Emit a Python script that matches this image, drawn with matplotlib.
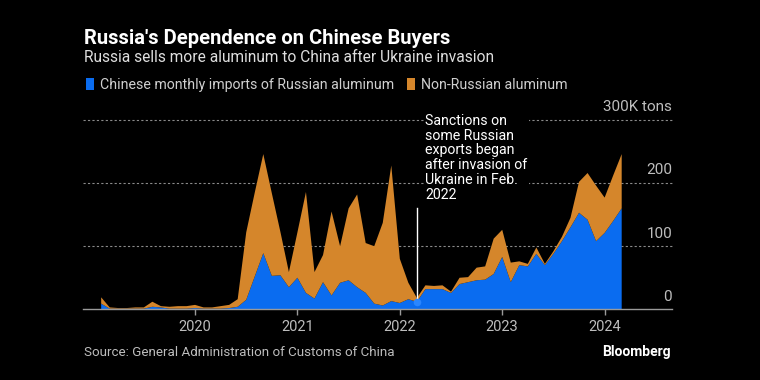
import numpy as np
import pandas as pd
import matplotlib
matplotlib.use("Agg")
import matplotlib.pyplot as plt
from matplotlib.patches import Patch

# data, thousand tons, monthly Jan 2019 .. Feb 2024
months = pd.period_range("2019-01", "2024-02", freq="M")
russian = [9, 1, 1, 1, 1, 1, 4, 3, 1, 1,
           1, 2, 1, 1, 1, 2, 4, 15, 52, 89,
           53, 54, 35, 50, 26, 17, 43, 22, 42, 46,
           35, 26, 9, 6, 13, 10, 16, 12, 32, 32,
           32, 26, 40, 43, 46, 47, 56, 83, 43, 70,
           68, 88, 70, 88, 108, 130, 153, 142, 108, 121,
           140, 160]
non_russian = [10, 2, 1, 1, 2, 2, 8, 2, 3, 4,
               4, 5, 2, 2, 4, 5, 12, 107, 133, 157,
               131, 69, 24, 72, 160, 42, 43, 133, 58, 114,
               147, 79, 91, 131, 215, 70, 26, 6, 6, 5,
               6, 2, 10, 8, 20, 21, 56, 43, 31, 6,
               4, 10, 2, 4, 7, 15, 49, 74, 88, 56,
               72, 86]
year_ticks = [2020, 2021, 2022, 2023, 2024]
y_ticks = [0, 100, 200, 300]
y_labels = ["0", "100", "200", "300K tons"]
labels = ["Chinese monthly imports of Russian aluminum", "Non-Russian aluminum"]
sanction_idx = 37  # Feb 2022

BLUE = "#0a6cf0"
ORANGE = "#d5862b"
GRAY = "#bdbdbd"
plt.rcParams["font.family"] = ["Roboto", "DejaVu Sans"]

# plot each month at its end (decimal year)
x = np.array([p.year + p.month / 12 for p in months])

W, H = 760, 380
fig = plt.figure(figsize=(7.6, 3.8), dpi=100, facecolor="black")
ax = fig.add_axes([83 / W, (H - 309.3) / H, (672 - 83) / W, (309.3 - 120) / H])
ax.set_facecolor("black")

ax.stackplot(x, russian, non_russian, colors=[BLUE, ORANGE], linewidth=0, zorder=2)

ax.set_xlim(2018.906, 2024.658)
ax.set_ylim(0, 300)

for v in y_ticks[1:]:
    ax.axhline(v, color="#8a8a8a", lw=0.8, ls=(0, (2, 2)), zorder=1, clip_on=False)
for v, lab in zip(y_ticks, y_labels):
    ax.text(1.0, v + 20, lab, transform=ax.get_yaxis_transform(), ha="right",
            va="center", color=GRAY, fontsize=11, clip_on=False)

for s in ["top", "left", "right"]:
    ax.spines[s].set_visible(False)
ax.spines["bottom"].set_color("#9a9a9a")
ax.spines["bottom"].set_linewidth(1)
ax.set_yticks([])
ax.set_xticks(year_ticks)
ax.set_xticklabels([str(y) for y in year_ticks])
ax.tick_params(axis="x", colors="#9a9a9a", labelcolor=GRAY, length=4,
               width=1, pad=4, labelsize=10.5)

# sanctions annotation
xs = x[sanction_idx]
ax.plot([xs, xs], [russian[sanction_idx], 160], color="white", lw=1, zorder=3)
ax.scatter([xs], [russian[sanction_idx]], s=30, color="#2a86ff", zorder=4, linewidths=0)
ax.text(2022.246, 310, "Sanctions on\nsome Russian\nexports began\nafter invasion of\nUkraine in Feb.\n2022",
        ha="left", va="top", color="white", fontsize=10.2, linespacing=1.08, zorder=5,
        clip_on=False, bbox=dict(facecolor="black", edgecolor="none", pad=1))

# titles
fig.text(84 / W, 1 - 38 / H, "Russia's Dependence on Chinese Buyers", color="white",
         fontsize=14.5, fontweight="bold", va="center", ha="left")
fig.text(84 / W, 1 - 58 / H, "Russia sells more aluminum to China after Ukraine invasion",
         color="#dedede", fontsize=11.2, va="center", ha="left")

handles = [Patch(facecolor=BLUE, edgecolor="none"), Patch(facecolor=ORANGE, edgecolor="none")]
fig.legend(handles, labels, loc="center left", bbox_to_anchor=(80 / W, 1 - 85 / H), ncol=2,
           frameon=False, fontsize=10.2, labelcolor="#cfcfcf", handlelength=0.6,
           handleheight=0.9, handletextpad=0.4, columnspacing=0.9, borderaxespad=0)

fig.text(84 / W, 1 - 353 / H, "Source: General Administration of Customs of China",
         color=GRAY, fontsize=9.6, va="center", ha="left")
fig.text(671 / W, 1 - 352 / H, "Bloomberg", color="white", fontsize=10,
         fontweight="bold", va="center", ha="right")

fig.savefig("out.png", dpi=100, facecolor="black")
